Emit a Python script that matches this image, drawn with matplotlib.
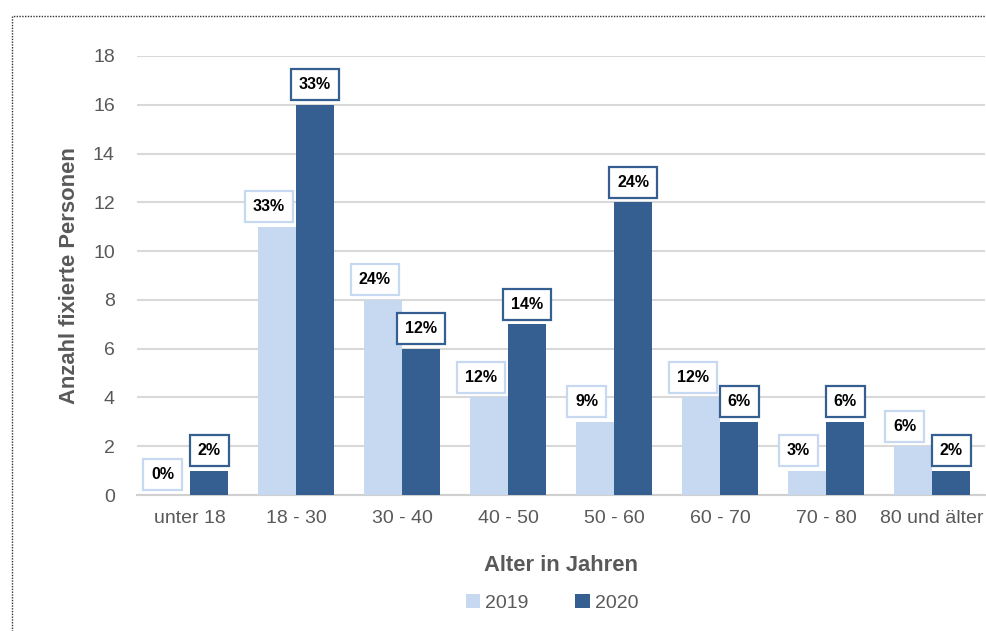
import matplotlib
matplotlib.use("Agg")
import matplotlib.pyplot as plt
from matplotlib import font_manager
from matplotlib.patches import Rectangle
import numpy as np

categories = ["unter 18", "18 - 30", "30 - 40", "40 - 50", "50 - 60", "60 - 70", "70 - 80", "80 und älter"]
values_2019 = [0, 11, 8, 4, 3, 4, 1, 2]
values_2020 = [1, 16, 6, 7, 12, 3, 3, 1]
labels_2019 = ["0%", "33%", "24%", "12%", "9%", "12%", "3%", "6%"]
labels_2020 = ["2%", "33%", "12%", "14%", "24%", "6%", "6%", "2%"]
series_names = ["2019", "2020"]
yticks = [0, 2, 4, 6, 8, 10, 12, 14, 16, 18]

names = {f.name for f in font_manager.fontManager.ttflist}
fam = "Liberation Sans Narrow" if "Liberation Sans Narrow" in names else "Liberation Sans"
plt.rcParams["font.family"] = [fam, "DejaVu Sans"]

c19 = "#C6D9F0"
c20 = "#365F91"
grey = "#595959"

fig = plt.figure(figsize=(9.87, 6.31), dpi=100)
ax = fig.add_axes([137/987, (631-495)/631, (985-137)/987, (495-56)/631])

x = np.arange(len(categories))
w = 0.36
b1 = ax.bar(x - w/2, values_2019, w, color=c19, zorder=3)
b2 = ax.bar(x + w/2, values_2020, w, color=c20, zorder=3)

ax.set_ylim(0, 18)
ax.set_xlim(-0.5, len(categories) - 0.5)
ax.set_yticks(yticks)
ax.set_xticks(x)
ax.set_xticklabels(categories)
ax.tick_params(axis="both", length=0, labelsize=14, labelcolor=grey)
ax.tick_params(axis="y", pad=16)
ax.tick_params(axis="x", pad=11)
ax.grid(axis="y", color="#D9D9D9", linewidth=1.5, zorder=0)
for s in ["top", "right", "left"]:
    ax.spines[s].set_visible(False)
ax.spines["bottom"].set_color("#D0D0D0")
ax.spines["bottom"].set_linewidth(1.5)
ax.spines["bottom"].set_zorder(2)

ax.set_ylabel("Anzahl fixierte Personen", fontsize=15.8, fontweight="bold", color=grey, labelpad=9)
ax.set_xlabel("Alter in Jahren", fontsize=15.8, fontweight="bold", color=grey, labelpad=20)

for bars, labs, ec, dx in [(b1, labels_2019, c19, -6), (b2, labels_2020, c20, 0)]:
    for rect, lab in zip(bars, labs):
        ax.annotate(lab, (rect.get_x() + rect.get_width()/2, rect.get_height()),
                    xytext=(dx, 14.5), textcoords="offset points",
                    ha="center", va="center", fontsize=11.5, fontweight="bold", color="black",
                    bbox=dict(boxstyle="square,pad=0.5", fc="white", ec=ec, lw=1.6),
                    zorder=5)

leg = fig.legend([b1, b2], series_names, loc="center", bbox_to_anchor=(552/987, (631-603)/631),
                 ncol=2, frameon=False, fontsize=14, handlelength=0.75, handleheight=0.75,
                 handletextpad=0.25, columnspacing=2.4)
for t in leg.get_texts():
    t.set_color(grey)

fig.patches.append(Rectangle((12/987, -0.1), 1.1, (631-16)/631 + 0.1, transform=fig.transFigure,
                             fill=False, ec="#333333", lw=1, ls=(0, (1, 1))))

fig.savefig("out.png", dpi=100)
